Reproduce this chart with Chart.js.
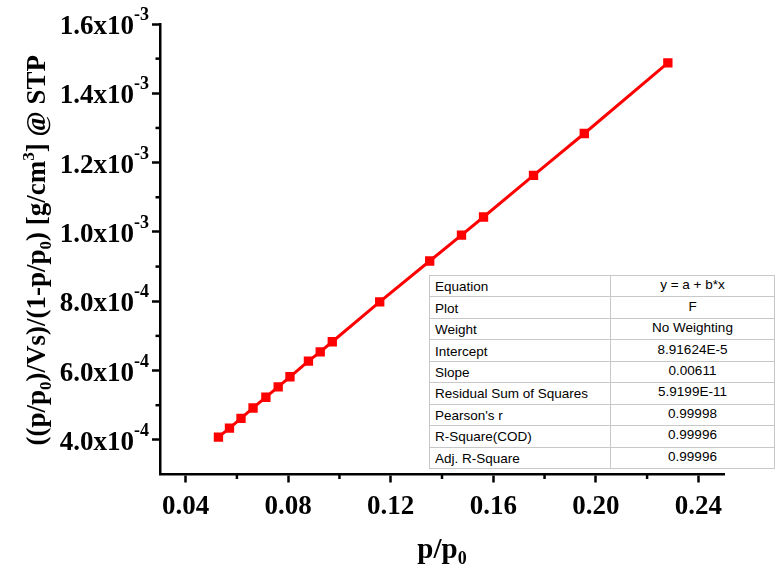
<!DOCTYPE html>
<html><head><meta charset="utf-8">
<script src="https://cdn.jsdelivr.net/npm/chart.js@4.4.1/dist/chart.umd.min.js"></script>
<style>
html,body{margin:0;padding:0;background:#fff;width:776px;height:570px;overflow:hidden}
#wrap{position:relative;width:776px;height:570px}
#c{position:absolute;left:0;top:0}
#fit{position:absolute;left:429px;top:275px;width:346px;height:194px;border-collapse:collapse;font-family:"Liberation Sans",Arial,sans-serif;font-size:13.5px;color:#000;background:#fff;border:1.5px solid #3a3a3a}
#fit td{border:1px solid #c8c8c8;padding:0 5px;height:20px;white-space:nowrap;line-height:15px}
#fit td.v{text-align:center;padding-bottom:3px;height:17px}
#fit td.k{padding-top:1px;height:19px}
</style></head><body>
<div id="wrap"><canvas id="c" width="776" height="570"></canvas><table id="fit"></table></div>
<script>
// ---- data ----
const relPressure = [0.0528,0.0571,0.0616,0.0663,0.0713,0.0761,0.0807,0.0879,0.0925,0.0972,0.1157,0.1352,0.1476,0.1562,0.1757,0.1955,0.2281];
const betValues   = [4.08e-4,4.34e-4,4.62e-4,4.92e-4,5.23e-4,5.53e-4,5.82e-4,6.27e-4,6.54e-4,6.83e-4,7.98e-4,9.16e-4,9.91e-4,1.043e-3,1.163e-3,1.284e-3,1.488e-3];
const xTickValues = [0.04,0.08,0.12,0.16,0.20,0.24];
const xTickLabels = ['0.04','0.08','0.12','0.16','0.20','0.24'];
const xMinorValues = [0.06,0.10,0.14,0.18,0.22];
const yTickValues = [4e-4,6e-4,8e-4,1.0e-3,1.2e-3,1.4e-3,1.6e-3];
const yTickMant = ['4.0','6.0','8.0','1.0','1.2','1.4','1.6'];
const yTickExp  = ['-4','-4','-4','-3','-3','-3','-3'];
const yMinorValues = [5e-4,7e-4,9e-4,1.1e-3,1.3e-3,1.5e-3];
const fitLabels = ['Equation','Plot','Weight','Intercept','Slope','Residual Sum of Squares',"Pearson's r",'R-Square(COD)','Adj. R-Square'];
const fitValues = ['y = a + b*x','F','No Weighting','8.91624E-5','0.00611','5.9199E-11','0.99998','0.99996','0.99996'];
const xTitleParts = [['p/p','n'],['0','sub']];
const yTitleParts = [['((p/p','n'],['0','sub'],[')/Vs)/(1-p/p','n'],['0','sub'],[') [g/cm','n'],['3','sup'],['] @ STP','n']];

// ---- table ----
const tbl = document.getElementById('fit');
fitLabels.forEach((k,i)=>{
  const tr = document.createElement('tr');
  const a = document.createElement('td'); a.className='k'; a.textContent=k;
  const b = document.createElement('td'); b.className='v'; b.textContent=fitValues[i];
  a.style.width='170px';
  tr.appendChild(a); tr.appendChild(b); tbl.appendChild(tr);
});

const SERIF = '"Liberation Serif","Times New Roman",serif';
const BIG = 27, SMALL = 17;

function drawParts(ctx, parts, x, y, align, big, small){
  const w = parts.map(([t,s])=>{ctx.font='bold '+(s==='n'?big:small)+'px '+SERIF;return ctx.measureText(t).width;});
  const total = w.reduce((a,b)=>a+b,0);
  let cx = align==='center' ? x-total/2 : x;
  parts.forEach(([t,s],i)=>{
    ctx.font='bold '+(s==='n'?big:small)+'px '+SERIF;
    const dy = s==='sub'?6:(s==='sup'?-11:0);
    ctx.fillText(t,cx,y+dy);
    cx+=w[i];
  });
}

const labelsPlugin = {
  id:'labels',
  afterDraw(chart){
    const ctx = chart.ctx, xs = chart.scales.x, ys = chart.scales.y;
    ctx.save();
    ctx.fillStyle='#000'; ctx.strokeStyle='#000'; ctx.lineWidth=2.5;
    ctx.textBaseline='alphabetic';
    // minor ticks
    xMinorValues.forEach(v=>{const px=xs.getPixelForValue(v);ctx.beginPath();ctx.moveTo(px,ys.bottom);ctx.lineTo(px,ys.bottom+4.5);ctx.stroke();});
    yMinorValues.forEach(v=>{const py=ys.getPixelForValue(v);ctx.beginPath();ctx.moveTo(xs.left,py);ctx.lineTo(xs.left-4.5,py);ctx.stroke();});
    // x tick labels
    ctx.textAlign='center';
    ctx.font='bold '+BIG+'px '+SERIF;
    xTickValues.forEach((v,i)=>ctx.fillText(xTickLabels[i], xs.getPixelForValue(v), 514));
    // y tick labels
    ctx.textAlign='left';
    yTickValues.forEach((v,i)=>{
      const py = ys.getPixelForValue(v);
      ctx.font='bold 18px '+SERIF;
      const ew = ctx.measureText(yTickExp[i]).width;
      ctx.font='bold '+BIG+'px '+SERIF;
      const m = yTickMant[i]+'x10';
      const mw = ctx.measureText(m).width;
      const xe = 149;
      ctx.fillText(m, xe-ew-mw, py+10);
      ctx.font='bold 18px '+SERIF;
      ctx.fillText(yTickExp[i], xe-ew, py-4);
    });
    // x title
    drawParts(ctx, xTitleParts, (xs.left+xs.right)/2, 558, 'center', 29, 18);
    // y title
    ctx.translate(45,(ys.top+ys.bottom)/2+1);
    ctx.rotate(-Math.PI/2);
    drawParts(ctx, yTitleParts, 0, 0, 'center', BIG, SMALL);
    ctx.restore();
  }
};

new Chart(document.getElementById('c'),{
  type:'scatter',
  data:{datasets:[{
    data: relPressure.map((x,i)=>({x, y:betValues[i]})),
    showLine:true,
    borderColor:'#ff0000', borderWidth:3,
    backgroundColor:'#ff0000',
    pointStyle:'rect', pointRadius:6.6, pointHoverRadius:6.6, pointBorderWidth:0,
    tension:0
  }]},
  options:{
    responsive:false, animation:false, devicePixelRatio:1,
    layout:{padding:{top:24,right:52,left:0,bottom:0}},
    plugins:{legend:{display:false},tooltip:{enabled:false}},
    scales:{
      x:{type:'linear',min:0.03,max:0.25,
        afterBuildTicks:s=>{s.ticks=xTickValues.map(v=>({value:v}));},
        afterFit:s=>{s.height=95.5;},
        ticks:{display:false},
        grid:{display:true,drawOnChartArea:false,drawTicks:true,tickLength:8,tickWidth:2.5,tickColor:'#000'},
        border:{display:true,color:'#000',width:2.5}},
      y:{type:'linear',min:3e-4,max:1.6e-3,
        afterBuildTicks:s=>{s.ticks=yTickValues.map(v=>({value:v}));},
        afterFit:s=>{s.width=160;},
        ticks:{display:false},
        grid:{display:true,drawOnChartArea:false,drawTicks:true,tickLength:8,tickWidth:2.5,tickColor:'#000'},
        border:{display:true,color:'#000',width:2.5}}
    }
  },
  plugins:[labelsPlugin]
});
</script>
</body></html>
